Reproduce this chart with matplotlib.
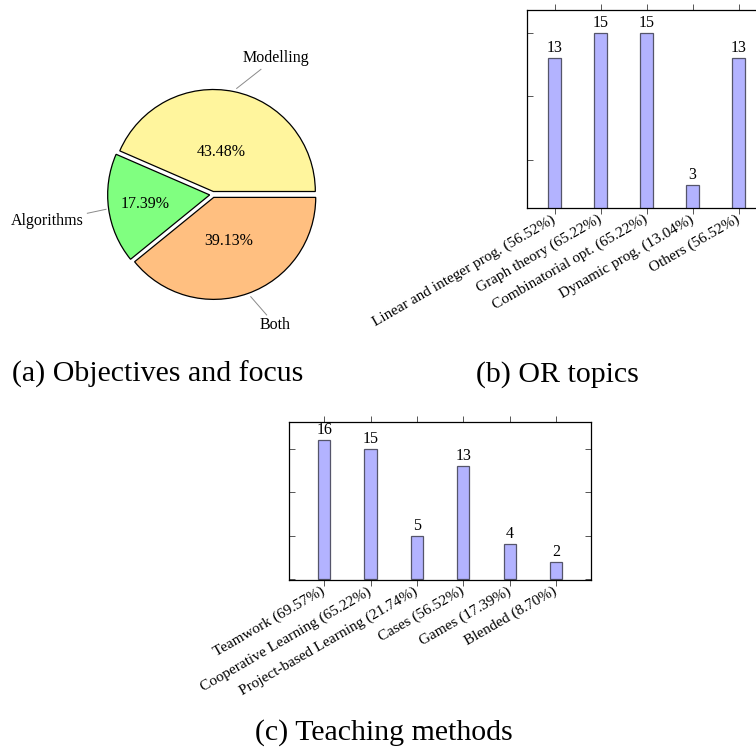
import matplotlib
matplotlib.use("Agg")
import matplotlib.pyplot as plt
import numpy as np

plt.rcParams['font.family'] = ['Liberation Serif', 'DejaVu Serif']

# Survey data (23 responses)
N_RESPONSES = 23

focus_labels = ["Modelling", "Algorithms", "Both"]
focus_counts = [10, 4, 9]
focus_colors = ["#FFF59D", "#80FF80", "#FFBF80"]

topic_labels = ["Linear and integer prog.", "Graph theory", "Combinatorial opt.",
                "Dynamic prog.", "Others"]
topic_counts = [13, 15, 15, 3, 13]

method_labels = ["Teamwork", "Cooperative Learning", "Project-based Learning",
                 "Cases", "Games", "Blended"]
method_counts = [16, 15, 5, 13, 4, 2]

captions = ["(a) Objectives and focus", "(b) OR topics", "(c) Teaching methods"]

BAR_FILL = "#B3B3FF"
BAR_EDGE = "#55556A"
SMALL = 11.5
TICK = 11
BIG = 21.5

W, H = 756, 755
fig = plt.figure(figsize=(W / 100, H / 100), dpi=100)


def px_axes(left, top, right, bottom):
    return fig.add_axes([left / W, 1 - bottom / H, (right - left) / W, (bottom - top) / H])


# ---------- (a) pie ----------
R = 102.0
cx, cy = 212.7, 194.5
half = 1.75 * R
axp = px_axes(cx - half, cy - half, cx + half, cy + half)

wedges, _, autotexts = axp.pie(
    focus_counts, colors=focus_colors, explode=[0.03] * len(focus_counts),
    startangle=0, counterclock=True, radius=1.0,
    wedgeprops=dict(edgecolor='black', linewidth=0.9),
    autopct=lambda p: f"{p:.2f}%", textprops=dict(fontsize=SMALL))
axp.set_xlim(-1.75, 1.75)
axp.set_ylim(-1.75, 1.75)
axp.set_aspect('equal')
axp.axis('off')

pct_dist = [0.40, 0.64, 0.45]
for w, t, d in zip(wedges, autotexts, pct_dist):
    mid = np.deg2rad((w.theta1 + w.theta2) / 2)
    x0, y0 = w.center
    t.set_position((x0 + d * np.cos(mid), y0 + d * np.sin(mid)))
    t.set_ha('center')
    t.set_va('center')

leader_from = [(0.235, 1.04), (-1.229, -0.184), (0.373, -1.002)]
leader_to = [(0.473, 1.227), (-1.046, -0.145), (0.529, -1.181)]
label_at = [(0.616, 1.338), (-1.62, -0.26), (0.611, -1.279)]
for name, p0, p1, pt in zip(focus_labels, leader_from, leader_to, label_at):
    axp.plot([p0[0], p1[0]], [p0[1], p1[1]], color='#8a8a8a', lw=0.7, clip_on=False)
    axp.text(pt[0], pt[1], name, ha='center', va='center', fontsize=SMALL, clip_on=False)


# ---------- bar charts ----------
def bar_panel(ax, labels, counts, unit_width):
    n = len(counts)
    x = np.arange(n)
    bars = ax.bar(x, counts, width=unit_width, color=BAR_FILL, edgecolor=BAR_EDGE,
                  linewidth=0.9, zorder=2)
    ax.bar_label(bars, padding=1.5, fontsize=SMALL)
    pad_x = 0.15 * (n - 1)
    ax.set_xlim(-pad_x, n - 1 + pad_x)
    lo, hi = min(counts), max(counts)
    pad_y = 0.15 * (hi - lo)
    ax.set_ylim(lo - pad_y, hi + pad_y)
    ax.set_yticks([v for v in (0, 5, 10, 15) if lo - pad_y <= v <= hi + pad_y])
    ax.set_xticks(x)
    ax.set_xticklabels([f"{l} ({100 * c / N_RESPONSES:.2f}%)" for l, c in zip(labels, counts)],
                       fontsize=TICK)
    for t in ax.get_xticklabels():
        t.set_rotation(30)
        t.set_ha('right')
        t.set_va('center')
        t.set_rotation_mode('anchor')
    ax.tick_params(axis='x', direction='out', top=True, bottom=True, length=4,
                   width=0.7, color='#555555', pad=3.5)
    ax.tick_params(axis='y', direction='in', left=True, right=True, labelleft=False,
                   length=4, width=0.7, color='#555555')
    for s in ax.spines.values():
        s.set_linewidth(0.9)
        s.set_color('black')


axb = px_axes(527, 10, 527 + 5.2 * 46.0, 208)
bar_panel(axb, topic_labels, topic_counts, 12.3 / 46.0)

axc = px_axes(289.3, 421.7, 289.3 + 6.5 * 46.4, 580)
bar_panel(axc, method_labels, method_counts, 12.3 / 46.4)

# ---------- captions ----------
fig.text(157.5 / W, 1 - 382 / H, captions[0], ha='center', va='baseline', fontsize=BIG)
fig.text(557.5 / W, 1 - 382 / H, captions[1], ha='center', va='baseline', fontsize=BIG)
fig.text(383.5 / W, 1 - 740 / H, captions[2], ha='center', va='baseline', fontsize=BIG)

fig.savefig("out.png", dpi=100)
